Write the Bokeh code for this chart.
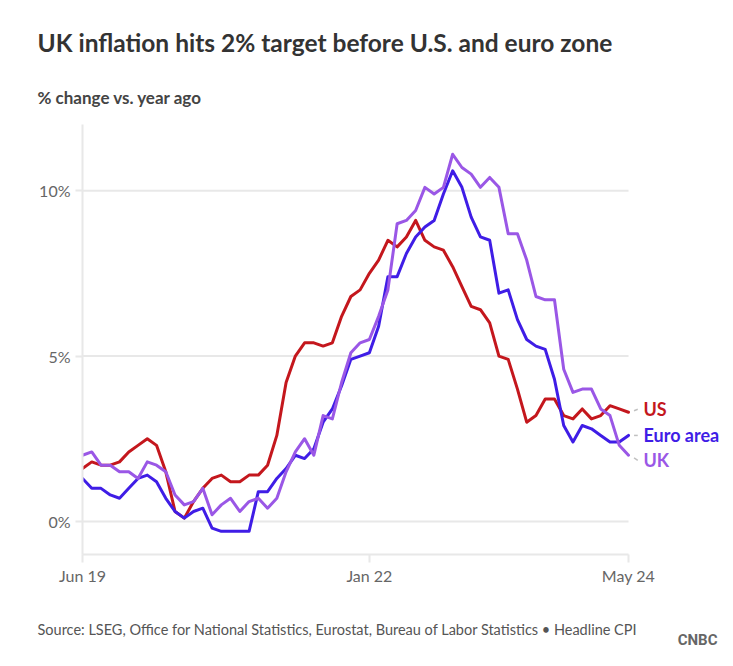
from bokeh.plotting import figure
from bokeh.models import Label, FixedTicker, Arrow, Range1d, Title
from bokeh.embed import file_html
from bokeh.resources import INLINE

# ---------------- data ----------------
months = [
    "2019-06", "2019-07", "2019-08", "2019-09", "2019-10", "2019-11", "2019-12",
    "2020-01", "2020-02", "2020-03", "2020-04", "2020-05", "2020-06", "2020-07",
    "2020-08", "2020-09", "2020-10", "2020-11", "2020-12",
    "2021-01", "2021-02", "2021-03", "2021-04", "2021-05", "2021-06", "2021-07",
    "2021-08", "2021-09", "2021-10", "2021-11", "2021-12",
    "2022-01", "2022-02", "2022-03", "2022-04", "2022-05", "2022-06", "2022-07",
    "2022-08", "2022-09", "2022-10", "2022-11", "2022-12",
    "2023-01", "2023-02", "2023-03", "2023-04", "2023-05", "2023-06", "2023-07",
    "2023-08", "2023-09", "2023-10", "2023-11", "2023-12",
    "2024-01", "2024-02", "2024-03", "2024-04", "2024-05",
]
us = [1.6, 1.8, 1.7, 1.7, 1.8, 2.1, 2.3,
      2.5, 2.3, 1.5, 0.3, 0.1, 0.6, 1.0, 1.3, 1.4, 1.2, 1.2, 1.4,
      1.4, 1.7, 2.6, 4.2, 5.0, 5.4, 5.4, 5.3, 5.4, 6.2, 6.8, 7.0,
      7.5, 7.9, 8.5, 8.3, 8.6, 9.1, 8.5, 8.3, 8.2, 7.7, 7.1, 6.5,
      6.4, 6.0, 5.0, 4.9, 4.0, 3.0, 3.2, 3.7, 3.7, 3.2, 3.1, 3.4,
      3.1, 3.2, 3.5, 3.4, 3.3]
euro = [1.3, 1.0, 1.0, 0.8, 0.7, 1.0, 1.3,
        1.4, 1.2, 0.7, 0.3, 0.1, 0.3, 0.4, -0.2, -0.3, -0.3, -0.3, -0.3,
        0.9, 0.9, 1.3, 1.6, 2.0, 1.9, 2.2, 3.0, 3.4, 4.1, 4.9, 5.0,
        5.1, 5.9, 7.4, 7.4, 8.1, 8.6, 8.9, 9.1, 9.9, 10.6, 10.1, 9.2,
        8.6, 8.5, 6.9, 7.0, 6.1, 5.5, 5.3, 5.2, 4.3, 2.9, 2.4, 2.9,
        2.8, 2.6, 2.4, 2.4, 2.6]
uk = [2.0, 2.1, 1.7, 1.7, 1.5, 1.5, 1.3,
      1.8, 1.7, 1.5, 0.8, 0.5, 0.6, 1.0, 0.2, 0.5, 0.7, 0.3, 0.6,
      0.7, 0.4, 0.7, 1.5, 2.1, 2.5, 2.0, 3.2, 3.1, 4.2, 5.1, 5.4,
      5.5, 6.2, 7.0, 9.0, 9.1, 9.4, 10.1, 9.9, 10.1, 11.1, 10.7, 10.5,
      10.1, 10.4, 10.1, 8.7, 8.7, 7.9, 6.8, 6.7, 6.7, 4.6, 3.9, 4.0,
      4.0, 3.4, 3.2, 2.3, 2.0]
series_names = ["US", "Euro area", "UK"]
series_colors = ["#c4171d", "#3f1de6", "#9a57e6"]
x_tick_pos = [0, 31, 59]
x_tick_labels = ["Jun 19", "Jan 22", "May 24"]
y_tick_pos = [0, 5, 10]
y_tick_labels = ["0%", "5%", "10%"]

title_text = "UK inflation hits 2% target before U.S. and euro zone"
subtitle_text = "% change vs. year ago"
source_text = ("Source: LSEG, Office for National Statistics, Eurostat, "
               "Bureau of Labor Statistics \u2022 Headline CPI")
logo_text = "CNBC"

FONT = "Lato"
W, H = 733, 666
FRAME_L, FRAME_R, FRAME_T, FRAME_B = 82, 628, 124, 554
x = list(range(len(months)))

x_end = (len(months) - 1) * (W - FRAME_L) / (FRAME_R - FRAME_L)
p = figure(width=W, height=H, output_backend="svg", toolbar_location=None,
           x_range=Range1d(0, x_end), y_range=Range1d(-1, 12),
           min_border_left=FRAME_L, min_border_right=0, min_border_top=FRAME_T,
           min_border_bottom=H - FRAME_B, title=None)
p.outline_line_color = None
p.background_fill_color = "white"
p.border_fill_color = "white"

grid_col = "#e8e8e8"
p.xaxis.ticker = FixedTicker(ticks=x_tick_pos)
p.xaxis.bounds = (x[0], x[-1])
p.xaxis.major_label_overrides = dict(zip(x_tick_pos, x_tick_labels))
p.xaxis.axis_line_color = grid_col
p.xaxis.axis_line_width = 2
p.xaxis.major_tick_line_color = grid_col
p.xaxis.major_tick_line_width = 2
p.xaxis.major_tick_out = 8
p.xaxis.major_tick_in = 0
p.xaxis.minor_tick_line_color = None
p.xaxis.major_label_standoff = 3
p.xaxis.major_label_text_font = FONT
p.xaxis.major_label_text_font_size = "16px"
p.xaxis.major_label_text_color = "#666666"

p.yaxis.ticker = FixedTicker(ticks=y_tick_pos)
p.yaxis.major_label_overrides = dict(zip(y_tick_pos, y_tick_labels))
p.yaxis.axis_line_color = grid_col
p.yaxis.axis_line_width = 2
p.yaxis.major_tick_line_color = grid_col
p.yaxis.major_tick_line_width = 2
p.yaxis.major_tick_out = 7
p.yaxis.major_tick_in = 0
p.yaxis.minor_tick_line_color = None
p.yaxis.major_label_standoff = 5
p.yaxis.major_label_text_font = FONT
p.yaxis.major_label_text_font_size = "16px"
p.yaxis.major_label_text_color = "#666666"

p.grid.visible = False
p.segment(x0=[x[0]] * len(y_tick_pos), x1=[x[-1]] * len(y_tick_pos),
          y0=y_tick_pos, y1=y_tick_pos, line_color=grid_col, line_width=2)

series_values = [us, euro, uk]
for vals, col in zip(series_values, series_colors):
    p.line(x, vals, line_color=col, line_width=3, line_join="round", line_cap="round")

label_dy = [3, 0, -5]
for name, vals, col, dy in zip(series_names, series_values, series_colors, label_dy):
    p.add_layout(Label(x=x[-1], y=vals[-1], x_offset=15, y_offset=dy, text=name,
                       text_baseline="middle", text_align="left",
                       text_font=FONT, text_font_style="bold",
                       text_font_size="18px", text_color=col))
    p.add_layout(Arrow(end=None, x_start=x[-1] + 0.6, y_start=vals[-1] + dy / 66.0,
                       x_end=x[-1] + 1.0, y_end=vals[-1] + dy / 33.0,
                       line_color="#c0c0c0", line_width=1.5))

# ---------------- titles (side panels) ----------------
p.add_layout(Title(text=subtitle_text, align="left", offset=37 - FRAME_L,
                   vertical_align="bottom", standoff=34, text_font=FONT,
                   text_font_style="bold", text_font_size="17px",
                   text_color="#444444"), "above")
p.add_layout(Title(text=title_text, align="left", offset=37 - FRAME_L,
                   vertical_align="bottom", standoff=21, text_font=FONT,
                   text_font_style="bold", text_font_size="24.5px",
                   text_color="#333333"), "above")

# footer: spacer, source line, logo
p.add_layout(Title(text=" ", standoff=30, text_font_size="1px"), "below")
p.add_layout(Title(text=source_text, align="left", offset=37 - FRAME_L,
                   vertical_align="top", standoff=0, text_font=FONT,
                   text_font_style="normal", text_font_size="14.5px",
                   text_line_height=0.6, text_color="#555555"), "below")
p.add_layout(Title(text=logo_text, align="right", offset=W - 717,
                   vertical_align="top", standoff=-18, text_font="Roboto",
                   text_font_style="bold", text_font_size="15px",
                   text_color="#666666"), "below")

open("out.html", "w").write(file_html(p, INLINE))
